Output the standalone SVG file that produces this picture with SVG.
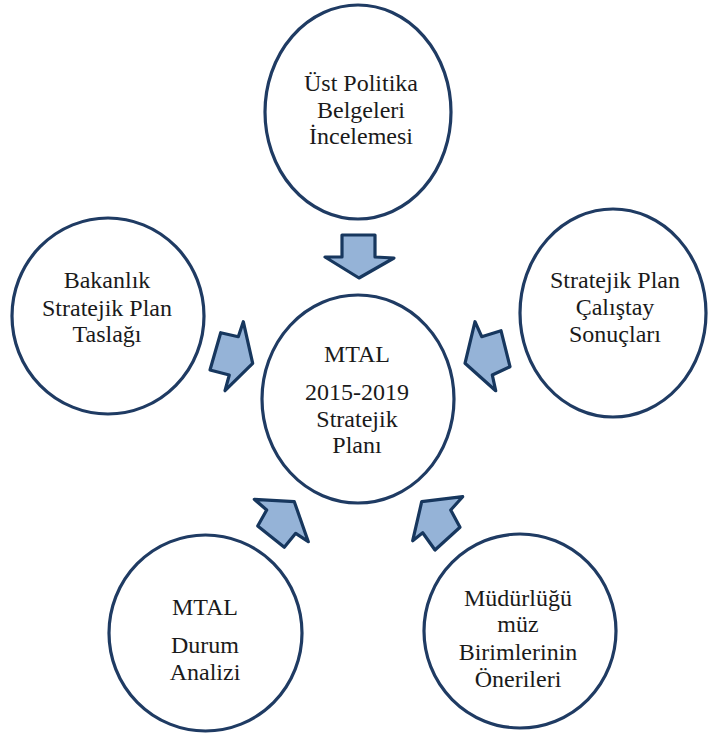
<svg xmlns="http://www.w3.org/2000/svg" width="708" height="754" viewBox="0 0 708 754">
<style>
.node ellipse{fill:#ffffff;stroke:#1f3b63;stroke-width:3.2}
.node text{font-family:"Liberation Serif","DejaVu Serif",serif;font-size:24px;fill:#1a1a1a;text-anchor:middle}
.arr polygon{fill:#95b3d7;stroke:#17375e;stroke-width:3.2;stroke-linejoin:round}
</style>
<rect width="708" height="754" fill="#ffffff"/>
<g id="connectors" class="arr">
<polygon points="342,235 375,235 375,257 394,258 359,278 325,257 342,257"/>
<polygon points="220.7,332.7 238.3,336.7 243.3,321.7 252.7,363.3 225,390.7 229.3,375 210,370"/>
<polygon points="475,321.7 481.7,336.7 501,330.7 510,366.7 492.3,375 495.7,390.7 465,363.3"/>
<polygon points="254.3,499.3 294.3,501.7 308.3,541.7 295.7,533.3 284.3,547.3 257.7,526 266.7,510"/>
<polygon points="462.7,496.7 450.7,510 460,527.3 435,550 422.7,532.7 412.7,540.7 421.7,501.7"/>
</g>
<g id="node-top" class="node">
<ellipse cx="358" cy="112" rx="93" ry="107"/>
<text x="361" y="91">Üst Politika</text>
<text x="361" y="118">Belgeleri</text>
<text x="361" y="144">İncelemesi</text>
</g>
<g id="node-left" class="node">
<ellipse cx="108" cy="316" rx="96" ry="98"/>
<text x="107" y="288">Bakanlık</text>
<text x="107" y="316">Stratejik Plan</text>
<text x="107" y="342">Taslağı</text>
</g>
<g id="node-right" class="node">
<ellipse cx="613" cy="313" rx="93" ry="104"/>
<text x="615" y="288">Stratejik Plan</text>
<text x="615" y="315">Çalıştay</text>
<text x="615" y="342">Sonuçları</text>
</g>
<g id="node-center" class="node">
<ellipse cx="358" cy="399" rx="96" ry="104"/>
<text x="357" y="362">MTAL</text>
<text x="357" y="400">2015-2019</text>
<text x="357" y="427">Stratejik</text>
<text x="357" y="453">Planı</text>
</g>
<g id="node-bottom-left" class="node">
<ellipse cx="205.5" cy="633" rx="96.5" ry="98"/>
<text x="205" y="615">MTAL</text>
<text x="205" y="653">Durum</text>
<text x="205" y="680">Analizi</text>
</g>
<g id="node-bottom-right" class="node">
<ellipse cx="520" cy="631" rx="96" ry="97"/>
<text x="518" y="606">Müdürlüğü</text>
<text x="518" y="632">müz</text>
<text x="518" y="660">Birimlerinin</text>
<text x="518" y="687">Önerileri</text>
</g>
</svg>
